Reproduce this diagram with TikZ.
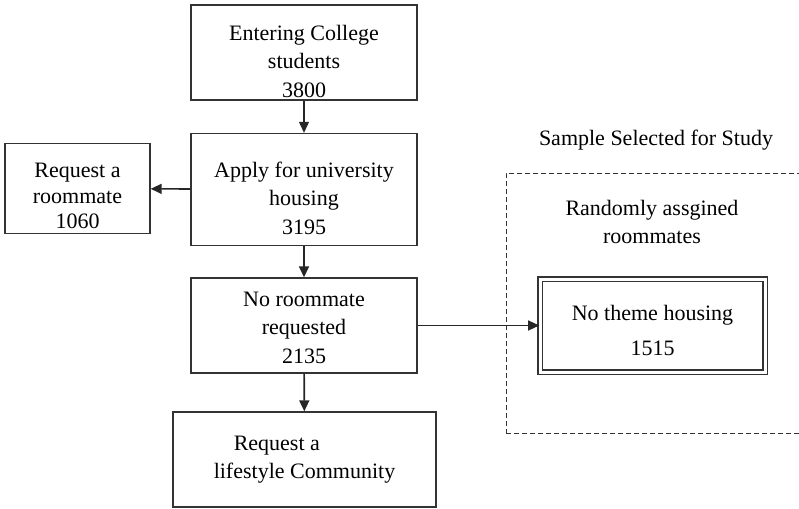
\documentclass[tikz,border=0pt]{standalone}
\usepackage{fontspec}
\setmainfont{Liberation Serif}
\usetikzlibrary{arrows.meta,calc}

\newcommand\topgap[1]{\rule{0pt}{#1}}

\begin{document}
\begin{tikzpicture}
  [
    x=1pt, y=-1pt,
    block/.style =
      {draw=black!80, line width=1.4pt, rectangle, align=center, inner sep=0pt,
       font=\fontsize{22}{28.5}\selectfont},
    dblock/.style =
      {block, double, double distance=3pt, line width=1.6pt},
    sarrow/.style =
      {-{Triangle[length=11pt, width=10pt]}, line width=1.6pt, draw=black!85},
    sample/.style =
      {draw=black!80, dash pattern=on 5pt off 3pt, line width=1pt, rectangle, inner sep=0pt},
    lbl/.style =
      {align=center, inner sep=0pt, font=\fontsize{22}{28}\selectfont}
  ]

\useasboundingbox (0,0) rectangle (799,508);

\node[block, minimum width=226, minimum height=95] (enter) at (304,52.5) {\topgap{33pt}Entering College\\students\\3800};
\node[block, minimum width=226, minimum height=112] (apply) at (304,189.5) {\topgap{33pt}Apply for university\\housing\\3195};
\node[block, minimum width=145, minimum height=90] (pair) at (77.5,188.5) {\topgap{30pt}Request a\\[-3pt]roommate\\[-3pt]1060};
\node[block, minimum width=226, minimum height=95] (norq) at (304,325.5) {\topgap{19pt}No roommate\\requested\\2135};
\node[block, align=left, minimum width=263, minimum height=95] (life) at (304.5,459.5) {\hspace*{20pt}Request a\\lifestyle Community};

\node[lbl] (study) at (656,140) {Sample Selected for Study};
\node[sample, minimum width=310, minimum height=260] (box) at (661,303) {};
\node[lbl] (rand) at (652,222) {Randomly assgined\\roommates};
\node[dblock, minimum width=225, minimum height=93] (theme) at (652.5,325.5) {\topgap{25pt}No theme housing\\[6pt]1515};

\draw [sarrow, line width=1.1pt] (enter) -- (apply);
\draw [sarrow] (apply) -- (pair);
\draw [sarrow] (apply) -- (norq);
\draw [sarrow] (norq) -- (life);
\draw [sarrow, line width=1.1pt] (norq) -- (theme);
\end{tikzpicture}
\end{document}
